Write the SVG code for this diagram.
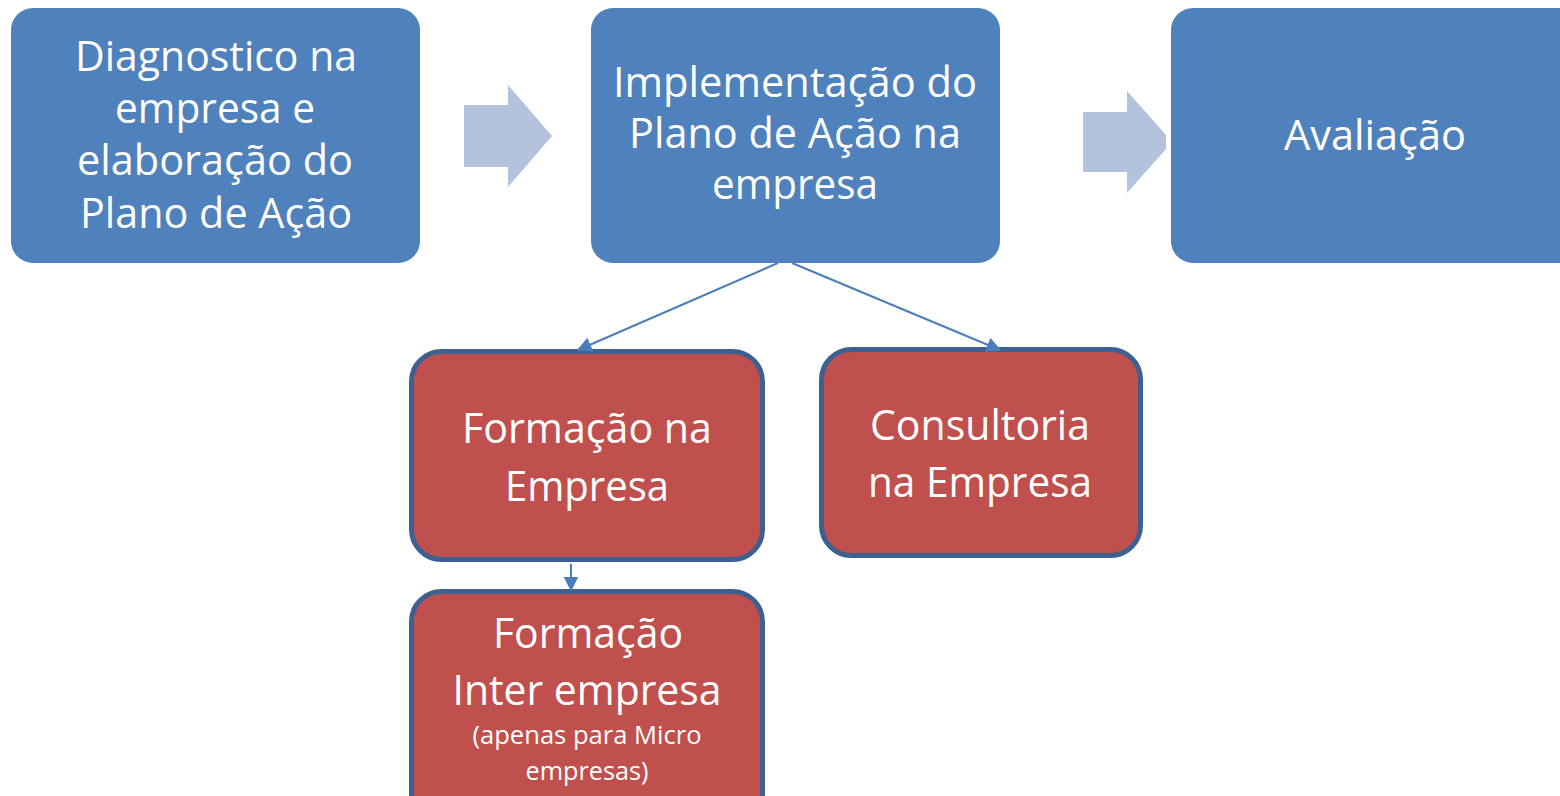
<svg xmlns="http://www.w3.org/2000/svg" width="1560" height="796" viewBox="0 0 1560 796">
<defs>
<style>
.blue{fill:#4f81bd;}
.red{fill:#c0504d;stroke:#3c6090;stroke-width:5;}
.big{fill:#b3c3de;}
.t{font-family:"Open Sans","Liberation Sans",sans-serif;fill:#ffffff;text-anchor:middle;font-size:41.5px;}
.s{font-size:25.5px;}
.conn{stroke:#4a7ebb;stroke-width:2;fill:none;}
</style>
<marker id="ah" viewBox="0 0 10 10" refX="9" refY="5" markerWidth="15" markerHeight="15" markerUnits="userSpaceOnUse" orient="auto">
<path d="M0,0 L10,5 L0,10 z" fill="#4a7ebb"/>
</marker>
</defs>
<rect width="1560" height="796" fill="#ffffff"/>
<g id="big-arrows">
<polygon class="big" points="464,105 508,105 508,85 552,136 508,187 508,167 464,167"/>
<polygon class="big" points="1083,112 1127,112 1127,91 1166,135 1166,149 1127,193 1127,172 1083,172"/>
</g>
<g id="n1">
<rect class="blue" x="11" y="8" width="409" height="255" rx="22"/>
<text class="t" x="216" y="71" textLength="282" lengthAdjust="spacingAndGlyphs">Diagnostico na</text>
<text class="t" x="215" y="123" textLength="200" lengthAdjust="spacingAndGlyphs">empresa e</text>
<text class="t" x="215" y="175" textLength="276" lengthAdjust="spacingAndGlyphs">elaboração do</text>
<text class="t" x="216" y="228" textLength="272" lengthAdjust="spacingAndGlyphs">Plano de Ação</text>
</g>
<g id="n2">
<rect class="blue" x="591" y="8" width="409" height="255" rx="22"/>
<text class="t" x="795" y="97" textLength="364" lengthAdjust="spacingAndGlyphs">Implementação do</text>
<text class="t" x="795" y="148" textLength="332" lengthAdjust="spacingAndGlyphs">Plano de Ação na</text>
<text class="t" x="795" y="199" textLength="166" lengthAdjust="spacingAndGlyphs">empresa</text>
</g>
<g id="n3">
<rect class="blue" x="1171" y="8" width="420" height="255" rx="22"/>
<text class="t" x="1375" y="150" textLength="182" lengthAdjust="spacingAndGlyphs">Avaliação</text>
</g>
<g id="n4">
<rect class="red" x="411.5" y="351.5" width="351" height="208" rx="30"/>
<text class="t" x="587" y="443" textLength="250" lengthAdjust="spacingAndGlyphs">Formação na</text>
<text class="t" x="587" y="501" textLength="164" lengthAdjust="spacingAndGlyphs">Empresa</text>
</g>
<g id="n5">
<rect class="red" x="821.5" y="349.5" width="319" height="206" rx="30"/>
<text class="t" x="980" y="440" textLength="220" lengthAdjust="spacingAndGlyphs">Consultoria</text>
<text class="t" x="980" y="497" textLength="224" lengthAdjust="spacingAndGlyphs">na Empresa</text>
</g>
<g id="n6">
<rect class="red" x="411.5" y="591.5" width="351" height="240" rx="30"/>
<text class="t" x="588" y="648" textLength="190" lengthAdjust="spacingAndGlyphs">Formação</text>
<text class="t" x="587" y="705" textLength="269" lengthAdjust="spacingAndGlyphs">Inter empresa</text>
<text class="t s" x="587" y="744" textLength="229" lengthAdjust="spacingAndGlyphs">(apenas para Micro</text>
<text class="t s" x="587" y="780" textLength="123" lengthAdjust="spacingAndGlyphs">empresas)</text>
</g>
<g id="connectors">
<line class="conn" x1="778" y1="263" x2="578" y2="350" marker-end="url(#ah)"/>
<line class="conn" x1="792" y1="263" x2="1000" y2="350" marker-end="url(#ah)"/>
<line class="conn" x1="571" y1="564" x2="571" y2="590" marker-end="url(#ah)"/>
</g>
</svg>
